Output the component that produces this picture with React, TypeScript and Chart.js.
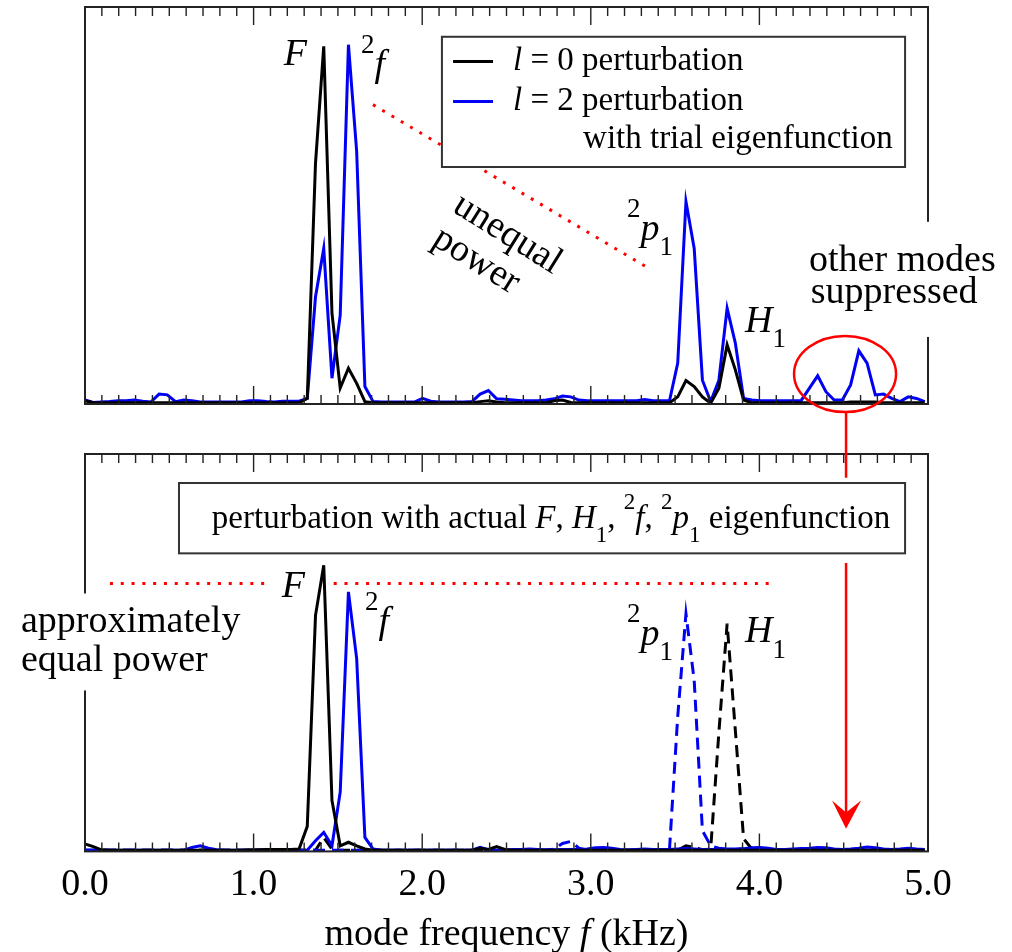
import React, { useEffect, useRef } from "react";
import { Chart, registerables } from "chart.js";
Chart.register(...registerables);

// FFT bin spacing of the spectra (kHz)
const BIN_KHZ = 0.048828;

// Upper panel: trial eigenfunction perturbations
const TOP_L0 = [
  0.8, 0.3, 0.3, 0.3, 0.3, 0.3, 0.3, 0.3, 0.3, 0.3,
  0.3, 0.3, 0.3, 0.3, 0.3, 0.3, 0.3, 0.3, 0.3, 0.3,
  0.3, 0.3, 0.3, 0.3, 0.3, 0.3, 0.3, 1.4, 60.7, 90.1,
  22.9, 4.0, 9.0, 5.2, 0.6, 0.3, 0.3, 0.3, 0.3, 0.3,
  0.3, 0.3, 0.3, 0.3, 0.3, 0.3, 0.3, 0.3, 0.6, 0.8,
  0.5, 0.3, 0.3, 0.3, 0.3, 0.3, 0.3, 0.8, 1.0, 0.4,
  0.3, 0.3, 0.3, 0.3, 0.3, 0.3, 0.3, 0.3, 0.3, 0.3,
  0.3, 0.3, 1.8, 5.9, 4.4, 1.8, 0.2, 4.0, 14.9, 8.6,
  1.0, 0.3, 0.3, 0.3, 0.3, 0.3, 0.3, 0.3, 0.3, 0.3,
  0.3, 0.3, 0.3, 0.5, 0.5, 0.5, 0.5, 0.3, 0.3, 0.3,
  0.3, 0.3, 0.3,
];
const TOP_L2 = [
  1.0, 0.4, 0.5, 0.6, 0.8, 0.8, 1.0, 0.7, 0.5, 2.5,
  2.3, 0.6, 1.0, 0.8, 0.5, 0.5, 0.5, 0.5, 0.5, 0.5,
  0.8, 0.8, 0.6, 0.5, 0.7, 0.7, 0.7, 1.4, 27.0, 39.2,
  6.5, 22.4, 90.5, 63.6, 4.4, 0.6, 0.5, 0.5, 0.5, 0.5,
  0.5, 1.4, 0.7, 0.5, 0.5, 0.5, 0.5, 0.6, 2.5, 3.4,
  1.3, 1.2, 1.0, 0.8, 0.8, 0.8, 1.0, 1.3, 2.0, 1.8,
  1.0, 0.8, 0.8, 0.8, 0.8, 0.8, 0.8, 0.8, 1.1, 0.8,
  0.8, 0.8, 10.3, 51.0, 39.2, 6.0, 0.6, 6.0, 24.1, 15.3,
  1.4, 1.0, 0.8, 0.8, 0.8, 0.8, 0.8, 0.9, 4.0, 7.1,
  3.1, 1.0, 1.0, 4.8, 13.4, 10.3, 2.3, 2.5, 1.4, 0.6,
  1.8, 1.4, 0.6,
];

// Lower panel: actual eigenfunction perturbations
const BOT_F = [
  1.9, 1.2, 0.4, 0.3, 0.3, 0.3, 0.3, 0.3, 0.3, 0.3,
  0.3, 0.3, 0.3, 0.3, 0.3, 0.3, 0.3, 0.3, 0.3, 0.3,
  0.4, 0.4, 0.5, 0.5, 0.5, 0.5, 0.6, 6.3, 59.4, 72.0,
  12.8, 1.4, 2.3, 1.4, 0.6, 0.3, 0.3, 0.3, 0.3, 0.3,
  0.3, 0.3, 0.3, 0.3, 0.3, 0.3, 0.3, 0.3, 0.8, 0.5,
  1.2, 0.5, 0.3, 0.3, 0.3, 0.3, 0.3, 0.3, 0.3, 0.3,
  0.3, 0.3, 0.3, 0.3, 0.3, 0.3, 0.3, 0.3, 0.3, 0.3,
  0.3, 0.3, 0.3, 0.3, 0.3, 0.3, 0.3, 0.3, 0.3, 0.3,
  0.3, 0.3, 0.3, 0.3, 0.3, 0.3, 0.3, 0.3, 0.3, 0.3,
  0.3, 0.3, 0.3, 0.3, 0.3, 0.3, 0.3, 0.3, 0.3, 0.3,
  0.3, 0.3, 0.3,
];
const BOT_2F = [
  0.3, 0.3, 0.3, 0.3, 0.3, 0.3, 0.3, 0.3, 0.3, 0.3,
  0.3, 0.3, 0.3, 1.0, 1.4, 0.8, 0.4, 0.3, 0.3, 0.3,
  0.3, 0.3, 0.3, 0.3, 0.3, 0.3, 0.3, 0.3, 2.7, 4.8,
  1.4, 14.9, 65.3, 48.5, 3.5, 0.6, 0.3, 0.3, 0.3, 0.3,
  0.3, 0.3, 0.3, 0.3, 0.3, 0.3, 0.3, 0.3, 1.0, 0.4,
  0.3, 0.3, 0.5, 0.5, 0.6, 0.5, 0.4, 0.4, 0.5, 0.5,
  0.5, 0.6, 0.9, 1.0, 0.8, 0.5, 0.4, 0.5, 0.6, 0.5,
  0.5, 0.5, 0.6, 0.7, 0.6, 0.5, 0.5, 0.5, 0.6, 0.6,
  0.7, 0.9, 1.0, 0.8, 0.5, 0.5, 0.6, 0.7, 0.8, 1.0,
  0.9, 0.6, 0.5, 0.6, 0.8, 1.1, 0.9, 0.6, 0.5, 0.6,
  0.8, 0.6, 0.5,
];
const BOT_2P1 = [
  0.3, 0.3, 0.3, 0.3, 0.3, 0.3, 0.3, 0.3, 0.3, 0.3,
  0.3, 0.3, 0.3, 0.3, 0.3, 0.3, 0.3, 0.3, 0.3, 0.3,
  0.3, 0.3, 0.3, 0.3, 0.3, 0.3, 0.3, 0.3, 0.3, 0.3,
  0.3, 0.3, 0.3, 0.3, 0.3, 0.3, 0.3, 0.3, 0.3, 0.3,
  0.3, 0.3, 0.3, 0.3, 0.3, 0.3, 0.3, 0.3, 0.3, 0.3,
  0.3, 0.3, 0.3, 0.3, 0.3, 0.3, 0.3, 0.6, 2.0, 2.5,
  0.8, 0.3, 0.3, 0.3, 0.3, 0.3, 0.3, 0.3, 0.3, 0.3,
  0.3, 0.5, 34.0, 59.8, 43.0, 5.2, 1.4, 0.8, 0.6, 0.3,
  0.3, 0.3, 0.3, 0.3, 0.3, 0.3, 0.3, 0.3, 0.3, 0.3,
  0.3, 0.3, 0.3, 0.3, 0.3, 0.3, 0.3, 0.3, 0.3, 0.3,
  0.3, 0.3, 0.3,
];
const BOT_H1 = [
  0.3, 0.3, 0.3, 0.3, 0.3, 0.3, 0.3, 0.3, 0.3, 0.3,
  0.3, 0.3, 0.3, 0.3, 0.3, 0.3, 0.3, 0.3, 0.3, 0.3,
  0.3, 0.3, 0.3, 0.3, 0.3, 0.3, 0.3, 0.3, 0.3, 3.5,
  0.6, 0.3, 0.3, 0.3, 0.3, 0.3, 0.3, 0.3, 0.3, 0.3,
  0.3, 0.3, 0.3, 0.3, 0.3, 0.3, 0.3, 0.3, 0.3, 0.3,
  0.3, 0.3, 0.3, 0.3, 0.3, 0.3, 0.3, 0.3, 0.3, 0.3,
  0.3, 0.3, 0.3, 0.3, 0.3, 0.3, 0.3, 0.3, 0.3, 0.3,
  0.3, 0.3, 0.3, 1.4, 1.0, 0.4, 0.6, 30.0, 57.3, 30.4,
  3.2, 0.6, 0.3, 0.3, 0.3, 0.3, 0.3, 0.3, 0.3, 0.3,
  0.3, 0.3, 0.3, 0.3, 0.3, 0.3, 0.3, 0.3, 0.3, 0.3,
  0.3, 0.3, 0.3,
];

const X_TICKS = [0, 1, 2, 3, 4, 5];
const X_MIN = 0;
const X_MAX = 5;

const SERIF = '"Liberation Serif", "Times New Roman", serif';
const BLUE = "#0000f5";
const RED = "#ff0000";
const LW = 3;

type Part = { t: string; it?: boolean; sub?: boolean; sup?: boolean };

function rich(ctx: CanvasRenderingContext2D, parts: Part[], x: number, y: number, size: number, align: string = "left") {
  const small = Math.round(size * 0.7);
  const font = (p: Part) => `${p.it ? "italic " : ""}${p.sub || p.sup ? small : size}px ${SERIF}`;
  const widths = parts.map((p) => {
    ctx.font = font(p);
    return ctx.measureText(p.t).width;
  });
  const total = widths.reduce((a, b) => a + b, 0);
  let cx = align === "left" ? x : align === "center" ? x - total / 2 : x - total;
  ctx.textAlign = "left";
  ctx.textBaseline = "alphabetic";
  ctx.fillStyle = "#000";
  parts.forEach((p, i) => {
    ctx.font = font(p);
    const dy = p.sub ? size * 0.4 : p.sup ? -size * 0.6 : 0;
    ctx.fillText(p.t, cx, y + dy);
    cx += widths[i];
  });
}

function drawFrame(chart: any) {
  const { ctx, chartArea: a } = chart;
  const xs = chart.scales.x;
  ctx.save();
  ctx.strokeStyle = "#222";
  ctx.lineWidth = 2;
  ctx.strokeRect(a.left, a.top, a.right - a.left, a.bottom - a.top);
  ctx.lineWidth = 1.4;
  ctx.beginPath();
  for (let k = 0; k <= 50; k++) {
    const px = xs.getPixelForValue(k / 10);
    const len = k % 10 === 0 ? 18 : 9;
    ctx.moveTo(px, a.top);
    ctx.lineTo(px, a.top + len);
    ctx.moveTo(px, a.bottom);
    ctx.lineTo(px, a.bottom - len);
  }
  ctx.stroke();
  ctx.restore();
}

function dotted(ctx: CanvasRenderingContext2D, x1: number, y1: number, x2: number, y2: number) {
  ctx.save();
  ctx.strokeStyle = RED;
  ctx.lineWidth = 3;
  ctx.setLineDash([3, 7.8]);
  ctx.beginPath();
  ctx.moveTo(x1, y1);
  ctx.lineTo(x2, y2);
  ctx.stroke();
  ctx.restore();
}

function series(vals: number[]) {
  return vals.map((v, i) => ({ x: i * BIN_KHZ, y: v }));
}

const topPlugin = {
  id: "topAnnotations",
  afterDraw(chart: any) {
    const ctx: CanvasRenderingContext2D = chart.ctx;
    const X = (f: number) => chart.scales.x.getPixelForValue(f);
    const Y = (v: number) => chart.scales.y.getPixelForValue(v);
    drawFrame(chart);
    dotted(ctx, X(1.708), Y(75.4), X(3.339), Y(34.3));

    // legend box
    ctx.save();
    const lx0 = X(2.117), lx1 = X(4.864), ly0 = Y(92.5), ly1 = Y(59.7);
    ctx.fillStyle = "#fff";
    ctx.fillRect(lx0, ly0, lx1 - lx0, ly1 - ly0);
    ctx.strokeStyle = "#333";
    ctx.lineWidth = 2;
    ctx.strokeRect(lx0, ly0, lx1 - lx0, ly1 - ly0);
    ctx.lineWidth = LW;
    ctx.strokeStyle = "#000";
    ctx.beginPath();
    ctx.moveTo(X(2.183), Y(86.3));
    ctx.lineTo(X(2.42), Y(86.3));
    ctx.stroke();
    ctx.strokeStyle = BLUE;
    ctx.beginPath();
    ctx.moveTo(X(2.183), Y(76.2));
    ctx.lineTo(X(2.42), Y(76.2));
    ctx.stroke();
    rich(ctx, [{ t: "l", it: true }, { t: " = 0 perturbation" }], X(2.539), Y(84.2), 33);
    rich(ctx, [{ t: "l", it: true }, { t: " = 2 perturbation" }], X(2.539), Y(74.1), 33);
    rich(ctx, [{ t: "with trial eigenfunction" }], X(2.954), Y(64.5), 33);
    ctx.restore();

    // peak labels
    rich(ctx, [{ t: "F", it: true }], X(1.317), Y(85.4), 38, "right");
    rich(ctx, [{ t: "2", sup: true }, { t: "f", it: true }], X(1.637), Y(82.6), 38);
    rich(ctx, [{ t: "2", sup: true }, { t: "p", it: true }, { t: "1", sub: true }], X(3.215), Y(41.3), 38);
    rich(ctx, [{ t: "H", it: true }, { t: "1", sub: true }], X(3.915), Y(18.1), 38);

    // rotated "unequal power"
    const ang = (32 * Math.PI) / 180;
    ctx.save();
    ctx.fillStyle = "#000";
    ctx.font = `38px ${SERIF}`;
    ctx.textAlign = "left";
    ctx.textBaseline = "alphabetic";
    ctx.translate(X(2.171), Y(48.7));
    ctx.rotate(ang);
    ctx.fillText("unequal", 0, 0);
    ctx.restore();
    ctx.save();
    ctx.fillStyle = "#000";
    ctx.font = `38px ${SERIF}`;
    ctx.textAlign = "left";
    ctx.textBaseline = "alphabetic";
    ctx.translate(X(2.05), Y(40.3));
    ctx.rotate(ang);
    ctx.fillText("power", 0, 0);
    ctx.restore();

    // other modes suppressed
    ctx.save();
    ctx.fillStyle = "#fff";
    ctx.fillRect(X(4.241), Y(45.9), X(5.457) - X(4.241), Y(16.9) - Y(45.9));
    ctx.restore();
    rich(ctx, [{ t: "other modes" }], X(4.294), Y(33.5), 38);
    rich(ctx, [{ t: "suppressed" }], X(4.305), Y(25.5), 38);

    // ellipse
    ctx.save();
    ctx.strokeStyle = RED;
    ctx.lineWidth = 2.5;
    const cx = X(4.508), cy = Y(7.56);
    ctx.beginPath();
    ctx.ellipse(cx, cy, X(4.508 + 0.3025) - cx, Y(7.56 - 9.58) - cy, 0, 0, Math.PI * 2);
    ctx.stroke();
    ctx.restore();
  },
};

const botPlugin = {
  id: "bottomAnnotations",
  afterDraw(chart: any) {
    const ctx: CanvasRenderingContext2D = chart.ctx;
    const X = (f: number) => chart.scales.x.getPixelForValue(f);
    const Y = (v: number) => chart.scales.y.getPixelForValue(v);
    drawFrame(chart);

    // approximately equal power (with white background)
    ctx.save();
    ctx.fillStyle = "#fff";
    ctx.fillRect(X(-0.433), Y(64.9), X(0.99) - X(-0.433), Y(40.5) - Y(64.9));
    ctx.restore();
    rich(ctx, [{ t: "approximately" }], X(-0.38), Y(55.1), 38);
    rich(ctx, [{ t: "equal power" }], X(-0.38), Y(45.5), 38);

    dotted(ctx, X(0.148), Y(67.4), X(1.085), Y(67.4));
    dotted(ctx, X(1.475), Y(67.4), X(4.1), Y(67.4));

    // caption box
    ctx.save();
    const bx0 = X(0.5575), bx1 = X(4.864), by0 = Y(92.7), by1 = Y(75.0);
    ctx.fillStyle = "#fff";
    ctx.fillRect(bx0, by0, bx1 - bx0, by1 - by0);
    ctx.strokeStyle = "#333";
    ctx.lineWidth = 2;
    ctx.strokeRect(bx0, by0, bx1 - bx0, by1 - by0);
    ctx.restore();
    rich(
      ctx,
      [
        { t: "perturbation with actual " },
        { t: "F", it: true },
        { t: ", " },
        { t: "H", it: true },
        { t: "1", sub: true },
        { t: ", " },
        { t: "2", sup: true },
        { t: "f", it: true },
        { t: ", " },
        { t: "2", sup: true },
        { t: "p", it: true },
        { t: "1", sub: true },
        { t: " eigenfunction" },
      ],
      X(2.764),
      Y(81.3),
      33,
      "center"
    );

    // peak labels
    rich(ctx, [{ t: "F", it: true }], X(1.305), Y(63.95), 38, "right");
    rich(ctx, [{ t: "2", sup: true }, { t: "f", it: true }], X(1.661), Y(54.9), 38);
    rich(ctx, [{ t: "2", sup: true }, { t: "p", it: true }, { t: "1", sub: true }], X(3.215), Y(51.9), 38);
    rich(ctx, [{ t: "H", it: true }, { t: "1", sub: true }], X(3.915), Y(52.6), 38);

    // red arrow from upper panel's ellipse
    ctx.save();
    ctx.strokeStyle = RED;
    ctx.fillStyle = RED;
    ctx.lineWidth = 2.5;
    const ax = X(4.514);
    ctx.beginPath();
    ctx.moveTo(ax, Y(110.6));
    ctx.lineTo(ax, Y(94.0));
    ctx.moveTo(ax, Y(72.6));
    ctx.lineTo(ax, Y(9.0));
    ctx.stroke();
    ctx.beginPath();
    ctx.moveTo(ax, Y(5.7));
    ctx.lineTo(X(4.431), Y(12.8));
    ctx.lineTo(ax, Y(9.8));
    ctx.lineTo(X(4.603), Y(12.8));
    ctx.closePath();
    ctx.fill();
    ctx.restore();

    // axis title
    rich(ctx, [{ t: "mode frequency " }, { t: "f", it: true }, { t: " (kHz)" }], X(2.5), chart.chartArea.bottom + 93.5, 38, "center");
  },
};

const common: any = {
  responsive: false,
  animation: false,
  events: [],
  plugins: { legend: { display: false }, tooltip: { enabled: false }, title: { display: false } },
  elements: { point: { radius: 0 }, line: { tension: 0 } },
};

export default function App() {
  const topRef = useRef<HTMLCanvasElement>(null);
  const botRef = useRef<HTMLCanvasElement>(null);

  useEffect(() => {
    const top = new Chart(topRef.current!, {
      type: "line",
      data: {
        datasets: [
          { data: series(TOP_L0), borderColor: "#000", borderWidth: LW, pointRadius: 0 },
          { data: series(TOP_L2), borderColor: BLUE, borderWidth: LW, pointRadius: 0 },
        ],
      },
      options: {
        ...common,
        layout: { padding: { left: 85, right: 84, top: 7, bottom: 548 } },
        scales: {
          x: { type: "linear", min: X_MIN, max: X_MAX, display: false },
          y: { type: "linear", min: 0, max: 100, display: false },
        },
      },
      plugins: [topPlugin],
    } as any);

    const bot = new Chart(botRef.current!, {
      type: "line",
      data: {
        datasets: [
          { data: series(BOT_F), borderColor: "#000", borderWidth: LW, pointRadius: 0 },
          { data: series(BOT_2F), borderColor: BLUE, borderWidth: LW, pointRadius: 0 },
          { data: series(BOT_2P1), borderColor: BLUE, borderWidth: LW, borderDash: [12, 7], pointRadius: 0 },
          { data: series(BOT_H1), borderColor: "#000", borderWidth: LW, borderDash: [12, 7], pointRadius: 0 },
        ],
      },
      options: {
        ...common,
        layout: { padding: { left: 85, right: 84, top: 454, bottom: 33 } },
        scales: {
          x: {
            type: "linear",
            min: X_MIN,
            max: X_MAX,
            grid: { display: false, drawTicks: false },
            border: { display: false },
            afterBuildTicks: (axis: any) => {
              axis.ticks = X_TICKS.map((v) => ({ value: v }));
            },
            ticks: {
              autoSkip: false,
              maxRotation: 0,
              padding: 11,
              color: "#000",
              font: { family: SERIF, size: 38 },
              callback: (v: any) => Number(v).toFixed(1),
            },
          },
          y: { type: "linear", min: 0, max: 100, display: false },
        },
      },
      plugins: [botPlugin],
    } as any);

    return () => {
      top.destroy();
      bot.destroy();
    };
  }, []);

  return (
    <div style={{ position: "absolute", left: 0, top: 0, width: 1012, height: 952, background: "#fff" }}>
      <canvas ref={topRef} width={1012} height={952} style={{ position: "absolute", left: 0, top: 0 }} />
      <canvas ref={botRef} width={1012} height={952} style={{ position: "absolute", left: 0, top: 0 }} />
    </div>
  );
}
